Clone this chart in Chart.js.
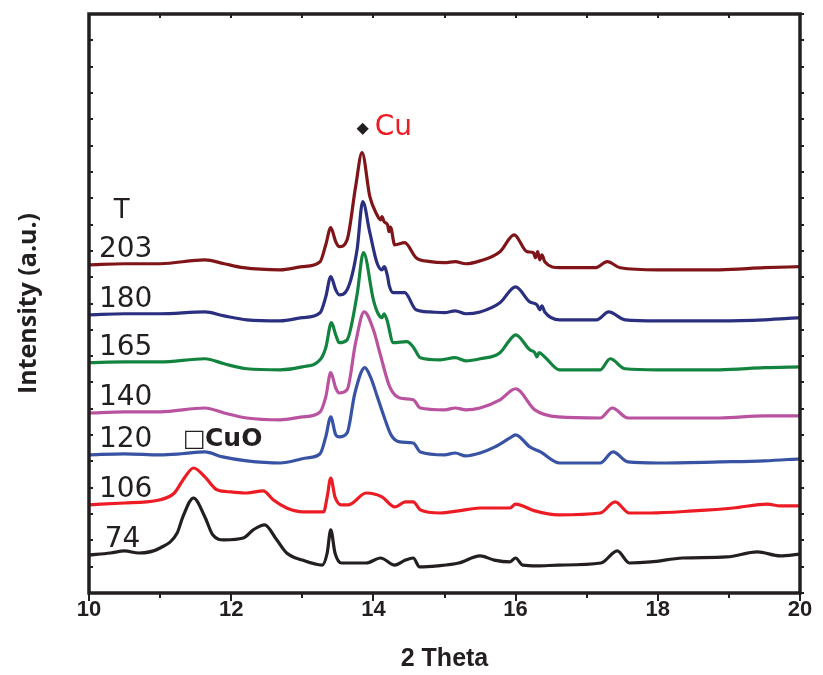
<!DOCTYPE html>
<html>
<head>
<meta charset="utf-8">
<title>XRD patterns</title>
<script src="https://cdn.jsdelivr.net/npm/chart.js@4.4.0/dist/chart.umd.min.js"></script>
<style>
  html, body { margin: 0; padding: 0; background: #fff; }
  #wrap { width: 823px; height: 675px; }
</style>
</head>
<body>
<div id="wrap"><canvas id="xrdChart" width="823" height="675"></canvas></div>
<script>
// sample temperatures, bottom to top
const temps = ['74', '106', '120', '140', '165', '180', '203'];
const colors = ['#231f20', '#ed1c24', '#3953a4', '#b9529f', '#13843f', '#2b2f7f', '#7f1518'];

// 2 theta positions and stacked intensity (a.u.) per pattern
const x74 = [10.0, 10.3, 10.5, 10.7, 11.0, 11.24, 11.32, 11.47, 11.63, 11.74, 11.9, 12.17, 12.31, 12.47, 12.64, 12.78, 13.0, 13.28, 13.35, 13.40, 13.46, 13.55, 13.9, 14.1, 14.3, 14.45, 14.56, 14.65, 14.9, 15.2, 15.5, 15.7, 15.92, 16.0, 16.1, 16.3, 16.6, 17.2, 17.43, 17.6, 17.9, 18.35, 18.97, 19.4, 19.72, 20.0];
const y74 = [1.44, 1.52, 1.60, 1.52, 1.71, 2.28, 2.89, 3.61, 2.89, 2.21, 2.02, 2.09, 2.40, 2.59, 2.02, 1.52, 1.25, 1.06, 1.52, 2.40, 1.52, 1.14, 1.14, 1.33, 1.06, 1.25, 1.33, 0.99, 1.03, 1.14, 1.41, 1.25, 1.18, 1.33, 1.06, 1.03, 1.06, 1.14, 1.60, 1.14, 1.18, 1.33, 1.37, 1.56, 1.41, 1.48];

const x106 = [10.0, 10.5, 10.8, 11.0, 11.2, 11.35, 11.47, 11.63, 11.8, 12.0, 12.22, 12.45, 12.59, 12.78, 13.01, 13.3, 13.35, 13.40, 13.46, 13.55, 13.65, 13.9, 14.12, 14.3, 14.45, 14.56, 14.66, 14.94, 15.2, 15.5, 15.92, 16.0, 16.27, 16.6, 17.19, 17.4, 17.6, 17.9, 18.5, 19.06, 19.54, 19.72, 20.0];
const y106 = [3.35, 3.42, 3.46, 3.54, 3.80, 4.41, 4.75, 4.41, 3.92, 3.84, 3.80, 3.88, 3.54, 3.23, 3.08, 3.08, 3.65, 4.37, 3.65, 3.35, 3.35, 3.80, 3.65, 3.27, 3.46, 3.46, 3.16, 3.04, 3.12, 3.23, 3.23, 3.38, 3.12, 2.97, 3.04, 3.46, 3.04, 3.04, 3.12, 3.23, 3.38, 3.31, 3.31];

const x120 = [10.0, 10.5, 11.0, 11.3, 11.63, 11.88, 12.22, 12.69, 13.06, 13.25, 13.33, 13.40, 13.47, 13.52, 13.63, 13.74, 13.88, 13.96, 14.05, 14.15, 14.25, 14.37, 14.56, 14.66, 15.0, 15.15, 15.3, 15.5, 15.71, 15.92, 16.0, 16.2, 16.35, 16.62, 17.19, 17.37, 17.58, 18.0, 18.87, 19.5, 20.0];
const y120 = [5.25, 5.29, 5.25, 5.29, 5.36, 5.17, 5.02, 4.94, 5.13, 5.29, 5.93, 6.69, 6.01, 5.93, 6.08, 7.60, 8.56, 8.20, 7.50, 6.70, 6.00, 5.74, 5.70, 5.36, 5.25, 5.32, 5.21, 5.32, 5.55, 5.89, 6.01, 5.55, 5.36, 4.94, 4.94, 5.36, 4.98, 4.94, 4.98, 5.02, 5.10];

const x140 = [10.0, 10.5, 11.0, 11.63, 11.9, 12.22, 12.69, 13.0, 13.25, 13.33, 13.40, 13.47, 13.52, 13.63, 13.75, 13.87, 14.0, 14.09, 14.23, 14.37, 14.56, 14.66, 15.0, 15.15, 15.3, 15.5, 15.78, 16.0, 16.27, 16.6, 17.19, 17.36, 17.58, 18.0, 18.87, 19.5, 20.0];
const y140 = [6.84, 6.88, 6.88, 7.03, 6.84, 6.65, 6.58, 6.69, 6.88, 7.45, 8.37, 7.79, 7.60, 7.72, 9.51, 10.68, 10.00, 9.13, 7.83, 7.41, 7.34, 7.03, 6.96, 7.03, 6.96, 7.03, 7.34, 7.76, 6.96, 6.69, 6.65, 7.03, 6.65, 6.65, 6.65, 6.73, 6.73];

const x165 = [10.0, 10.5, 11.0, 11.63, 11.9, 12.22, 12.69, 13.0, 13.25, 13.33, 13.41, 13.47, 13.52, 13.63, 13.77, 13.86, 14.0, 14.06, 14.12, 14.15, 14.19, 14.28, 14.47, 14.56, 14.66, 14.94, 15.15, 15.3, 15.5, 15.78, 15.92, 16.0, 16.2, 16.27, 16.3, 16.33, 16.41, 16.62, 17.19, 17.33, 17.54, 18.0, 18.87, 19.5, 20.0];
const y165 = [8.75, 8.78, 8.78, 8.90, 8.71, 8.52, 8.48, 8.59, 8.86, 9.32, 10.27, 9.81, 9.51, 9.62, 11.33, 12.93, 11.14, 10.65, 10.46, 10.61, 10.38, 9.51, 9.55, 9.35, 8.94, 8.86, 8.94, 8.82, 8.90, 9.13, 9.62, 9.81, 9.24, 9.13, 8.97, 9.13, 8.97, 8.48, 8.48, 8.90, 8.52, 8.48, 8.48, 8.56, 8.59];

const x180 = [10.0, 10.5, 11.0, 11.63, 11.9, 12.22, 12.69, 13.0, 13.25, 13.33, 13.40, 13.47, 13.52, 13.63, 13.77, 13.85, 13.95, 14.05, 14.12, 14.15, 14.2, 14.22, 14.28, 14.44, 14.6, 14.8, 15.0, 15.15, 15.3, 15.5, 15.78, 16.0, 16.2, 16.3, 16.34, 16.37, 16.41, 16.62, 17.14, 17.31, 17.54, 18.0, 18.87, 19.5, 20.0];
const y180 = [10.57, 10.61, 10.61, 10.68, 10.53, 10.38, 10.34, 10.46, 10.65, 11.25, 12.02, 11.52, 11.33, 11.52, 13.04, 14.87, 13.69, 12.55, 12.28, 12.40, 12.02, 11.71, 11.41, 11.41, 10.76, 10.68, 10.65, 10.72, 10.61, 10.68, 11.03, 11.63, 11.06, 10.95, 10.76, 10.91, 10.68, 10.38, 10.38, 10.68, 10.38, 10.34, 10.34, 10.38, 10.46];

const x203 = [10.0, 10.5, 11.0, 11.63, 11.9, 12.17, 12.69, 13.0, 13.25, 13.33, 13.40, 13.47, 13.52, 13.63, 13.75, 13.84, 13.95, 14.05, 14.1, 14.12, 14.15, 14.2, 14.22, 14.24, 14.3, 14.44, 14.6, 14.8, 15.0, 15.15, 15.3, 15.5, 15.78, 15.98, 16.16, 16.25, 16.28, 16.31, 16.34, 16.37, 16.41, 16.62, 17.12, 17.29, 17.47, 18.0, 18.87, 19.5, 20.0];
const y203 = [12.47, 12.51, 12.51, 12.66, 12.51, 12.36, 12.28, 12.40, 12.59, 13.23, 13.88, 13.35, 13.16, 13.42, 15.44, 16.73, 15.06, 14.37, 14.18, 14.30, 14.11, 13.99, 13.73, 13.90, 13.23, 13.31, 12.74, 12.59, 12.55, 12.59, 12.51, 12.62, 12.97, 13.61, 12.97, 12.93, 12.74, 12.97, 12.66, 12.85, 12.59, 12.36, 12.36, 12.59, 12.36, 12.28, 12.28, 12.36, 12.40];

const xs = [x74, x106, x120, x140, x165, x180, x203];
const ys = [y74, y106, y120, y140, y165, y180, y203];

const ink = '#231f20';
const narrowBold = '"Liberation Sans Narrow", "Liberation Sans", Arial, sans-serif';

// frame, tick marks and the text annotations
const decorPlugin = {
    id: 'decor',
    afterDatasetsDraw(chart) {
        const { ctx, chartArea: a, scales: { x, y } } = chart;
        ctx.save();

        // ticks
        ctx.strokeStyle = ink;
        ctx.lineWidth = 2;
        ctx.beginPath();
        x.ticks.forEach(t => {
            const px = Math.round(x.getPixelForValue(t.value));
            const len = t.value % 2 === 0 ? 8 : 5;
            ctx.moveTo(px, a.bottom); ctx.lineTo(px, a.bottom + len);
            ctx.moveTo(px, a.top); ctx.lineTo(px, a.top + 4);
        });
        y.ticks.forEach(t => {
            const py = Math.round(y.getPixelForValue(t.value));
            ctx.moveTo(a.left, py); ctx.lineTo(a.left + 4, py);
            ctx.moveTo(a.right, py); ctx.lineTo(a.right + 4, py);
        });
        ctx.stroke();

        // frame
        ctx.lineWidth = 3.5;
        ctx.strokeRect(a.left, a.top, a.right - a.left, a.bottom - a.top);

        // temperature labels next to each pattern
        ctx.fillStyle = ink;
        ctx.font = '28px "DejaVu Sans", sans-serif';
        ctx.textBaseline = 'alphabetic';
        ctx.textAlign = 'left';
        temps.forEach((t, i) => {
            const lx = x.getPixelForValue(i === 0 ? 10.22 : 10.14);
            const ly = y.getPixelForValue(ys[i][0]) - 8;
            ctx.fillText(t, lx, ly);
        });
        const topLabelY = y.getPixelForValue(y203[0]) - 8;
        ctx.font = '26px "DejaVu Sans", sans-serif';
        ctx.textAlign = 'center';
        ctx.fillText('T', x.getPixelForValue(10.46), topLabelY - 39);

        // Cu reflection marker above the main peak
        const peakY = y.getPixelForValue(Math.max(...y203));
        const cuX = x.getPixelForValue(13.85);
        ctx.font = '16px "DejaVu Sans", sans-serif';
        ctx.textAlign = 'center';
        ctx.fillText('\u25C6', cuX, peakY - 20);
        ctx.font = '28px "DejaVu Sans", sans-serif';
        ctx.textAlign = 'left';
        ctx.fillStyle = '#ed1c24';
        ctx.fillText('Cu', cuX + 12, peakY - 18);

        // CuO marker
        const cuoX = x.getPixelForValue(11.35);
        const cuoY = y.getPixelForValue(5.29) - 8;
        ctx.fillStyle = ink;
        ctx.font = '24px "DejaVu Sans", sans-serif';
        ctx.fillText('\u25A1', cuoX - 2, cuoY);
        ctx.font = 'bold 25px "DejaVu Sans", sans-serif';
        ctx.fillText('CuO', cuoX + 20, cuoY);

        ctx.restore();
    }
};

new Chart(document.getElementById('xrdChart'), {
    type: 'line',
    data: {
        datasets: temps.map((t, i) => ({
            label: t,
            data: xs[i].map((v, j) => ({ x: v, y: ys[i][j] })),
            borderColor: colors[i],
            borderWidth: 3.2,
            pointRadius: 0,
            cubicInterpolationMode: 'monotone',
            fill: false
        }))
    },
    options: {
        responsive: false,
        animation: false,
        devicePixelRatio: 1,
        layout: { padding: { top: 14, right: 23, left: 0, bottom: 0 } },
        plugins: {
            legend: { display: false },
            tooltip: { enabled: false }
        },
        scales: {
            x: {
                type: 'linear',
                min: 10,
                max: 20,
                grid: { display: false, drawTicks: false },
                border: { display: false },
                ticks: {
                    stepSize: 1,
                    autoSkip: false,
                    maxRotation: 0,
                    padding: 4,
                    color: ink,
                    font: { family: narrowBold, size: 22, weight: 'bold' },
                    callback: v => (v % 2 === 0 ? v : '')
                },
                title: {
                    display: true,
                    text: '2 Theta',
                    color: ink,
                    font: { family: narrowBold, size: 25, weight: 'bold' },
                    padding: { top: 0, bottom: 1 }
                },
                afterFit(scale) { scale.height = 82; }
            },
            y: {
                min: 0,
                max: 22,
                grid: { display: false, drawTicks: false },
                border: { display: false },
                ticks: { display: false, stepSize: 1 },
                title: {
                    display: true,
                    text: 'Intensity (a.u.)',
                    color: ink,
                    font: { family: '"Open Sans", Arial, sans-serif', size: 25, weight: 'bold' },
                    padding: { top: 14, bottom: 0 }
                },
                afterFit(scale) { scale.width = 89; }
            }
        }
    },
    plugins: [decorPlugin]
});
</script>
</body>
</html>
